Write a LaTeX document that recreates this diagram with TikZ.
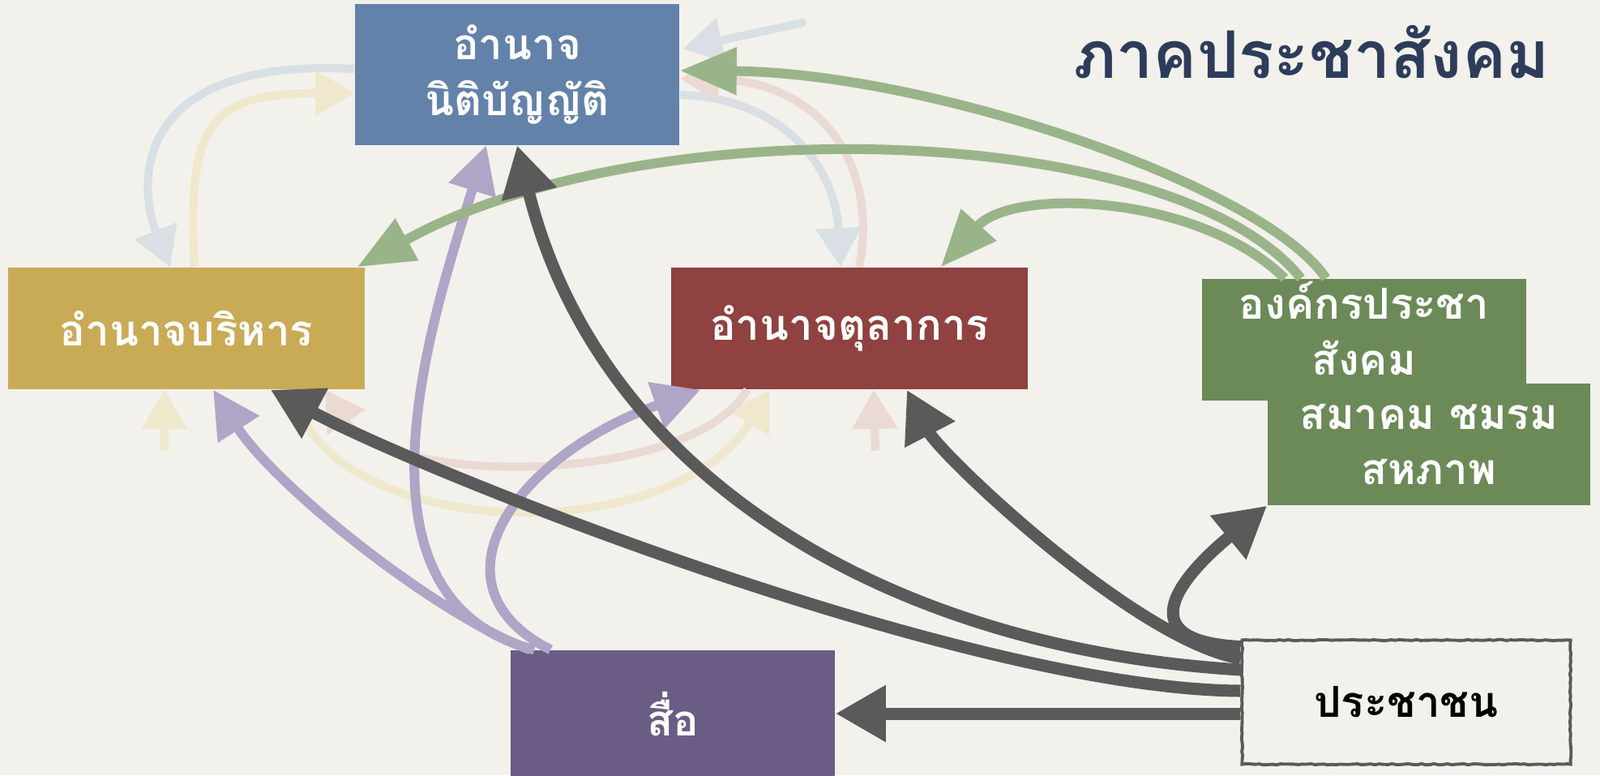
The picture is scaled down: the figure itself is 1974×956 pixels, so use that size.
\documentclass[tikz,border=0pt]{standalone}
\usepackage{fontspec}
\newfontfamily\thaifont[Script=Thai]{Loma}
\usetikzlibrary{arrows.meta,calc,decorations.pathmorphing}

\definecolor{paper}{HTML}{F2F1EC}
\definecolor{legblue}{HTML}{6282AA}
\definecolor{exeyellow}{HTML}{C9AB56}
\definecolor{judred}{HTML}{8F423F}
\definecolor{civgreen}{HTML}{6C8A58}
\definecolor{medpurple}{HTML}{6A5C84}
\definecolor{titlenavy}{HTML}{2D3C5A}
\definecolor{darkline}{HTML}{5A5A5A}
\definecolor{greenline}{HTML}{9AB48A}
\definecolor{purpleline}{HTML}{AFA5C6}
\definecolor{fadeblue}{HTML}{D9DFE4}
\definecolor{fadeyellow}{HTML}{EFE8CC}
\definecolor{fadepink}{HTML}{EBD9D4}

\tikzset{
  box/.style={rectangle, inner sep=0pt, minimum width=4cm, minimum height=1.5cm,
    text=white, align=center, font=\thaifont\bfseries\fontsize{15}{19.5}\selectfont},
  title/.style={text=titlenavy, font=\thaifont\bfseries\fontsize{23}{28}\selectfont},
  darkarrow/.style={draw=darkline, line width=0.15cm,
    -{Triangle[length=0.62cm,width=0.66cm]}},
  greenarrow/.style={draw=greenline, line width=0.12cm,
    -{Triangle[length=0.7cm,width=0.56cm]}},
  purplearrow/.style={draw=purpleline, line width=0.12cm,
    -{Triangle[length=0.58cm,width=0.58cm]}},
  fadearrow/.style={line width=0.1cm, -{Triangle[length=0.48cm,width=0.54cm]}}
}

\begin{document}
\begin{tikzpicture}[x=0.01cm, y=-0.01cm]
  \useasboundingbox (0,0) rectangle (1974,956);
  \fill[paper] (0,0) rectangle (1974,956);

  % the three powers, the media and the people
  \node[box, fill=legblue, minimum height=1.73cm] (leg) at (638,92) {อำนาจ\\นิติบัญญัติ};
  \node[box, fill=exeyellow, minimum width=4.4cm] (exe) at (230,405) {อำนาจบริหาร};
  \node[box, fill=judred, minimum width=4.4cm] (jud) at (1048,405) {อำนาจตุลาการ};
  \node[box, fill=medpurple, minimum height=1.56cm] (med) at (830,880) {สื่อ};
  \node[box, fill=paper, text=black, minimum width=4.05cm, minimum height=1.53cm,
    draw=darkline, line width=1.1pt, decorate,
    decoration={random steps, segment length=1.5pt, amplitude=0.2pt}] (ppl) at (1735,866) {ประชาชน};

  % civil society
  \node[box, fill=civgreen, text depth=0.28cm] (civ) at (1683,419) {องค์กรประชา\\สังคม};
  \node[box, fill=civgreen, minimum width=3.98cm] (ass) at (1763,548) {สมาคม ชมรม\\สหภาพ};
  \node[title] (head) at (1618,64) {ภาคประชาสังคม};

  % faint arrows among the three powers
  \coordinate (fadetail) at (990,28);
  \draw[fadearrow, draw=fadeblue] ($(leg.west)+(0,-7)$) .. controls (160,70) and (170,230) .. ($(exe.north)+(-20,0)$);
  \draw[fadearrow, draw=fadeyellow] ($(exe.north)+(10,0)$) .. controls (230,150) and (260,115) .. ($(leg.west)+(0,23)$);
  \draw[fadearrow, draw=fadeblue] ($(leg.east)+(0,25)$) .. controls (960,120) and (1030,200) .. ($(jud.north)+(-11,0)$);
  \draw[fadearrow, draw=fadepink] ($(jud.north)+(12,0)$) .. controls (1085,200) and (1010,100) .. ($(leg.east)+(0,5)$);
  \draw[fadearrow, draw=fadeblue, line cap=round] (fadetail) -- ($(leg.east)+(4,-32)$);
  \draw[fadearrow, draw=fadeyellow] ($(exe.south east)+(-90,0)$) .. controls (400,670) and (830,680) .. ($(jud.south west)+(122,0)$);
  \draw[fadearrow, draw=fadepink] ($(jud.south west)+(95,0)$) .. controls (850,600) and (480,600) .. ($(exe.south east)+(-50,0)$);
  \draw[fadearrow, draw=fadeyellow] ($(exe.south)+(-27,75)$) -- ($(exe.south)+(-27,0)$);
  \draw[fadearrow, draw=fadepink] ($(jud.south)+(32,75)$) -- ($(jud.south)+(30,0)$);

  % media
  \draw[purplearrow] ($(med.north west)+(25,0)$) .. controls (540,760) and (340,600) .. ($(exe.south)+(33,0)$);
  \draw[purplearrow] ($(med.north west)+(30,0)$) .. controls (420,740) and (530,400) .. ($(leg.south)+(-38,0)$);
  \draw[purplearrow] ($(med.north west)+(50,0)$) .. controls (520,720) and (640,560) .. ($(jud.south west)+(37,0)$);

  % civil society
  \draw[greenarrow] ($(civ.north)+(-47,0)$) .. controls (1560,230) and (1150,90) .. ($(leg.east)+(0,-5)$);
  \draw[greenarrow] ($(civ.north)+(-78,0)$) .. controls (1450,150) and (800,130) .. ($(exe.north east)+(-10,0)$);
  \draw[greenarrow] ($(civ.north)+(-98,0)$) .. controls (1480,240) and (1250,230) .. ($(jud.north east)+(-108,0)$);

  % the people
  \draw[darkarrow] ($(ppl.west)+(0,-40)$) .. controls (1100,800) and (740,590) .. (leg.south);
  \draw[darkarrow] ($(ppl.west)+(0,-14)$) .. controls (1200,850) and (540,590) .. ($(exe.south east)+(-117,0)$);
  \draw[darkarrow] ($(ppl.west)+(0,-54)$) .. controls (1400,790) and (1160,560) .. ($(jud.south east)+(-150,0)$);
  \draw[darkarrow] ($(ppl.north west)+(0,10)$) .. controls (1380,790) and (1470,700) .. (ass.south west);
  \draw[darkarrow] ($(ppl.west)+(0,14)$) -- (med.east);
\end{tikzpicture}
\end{document}
